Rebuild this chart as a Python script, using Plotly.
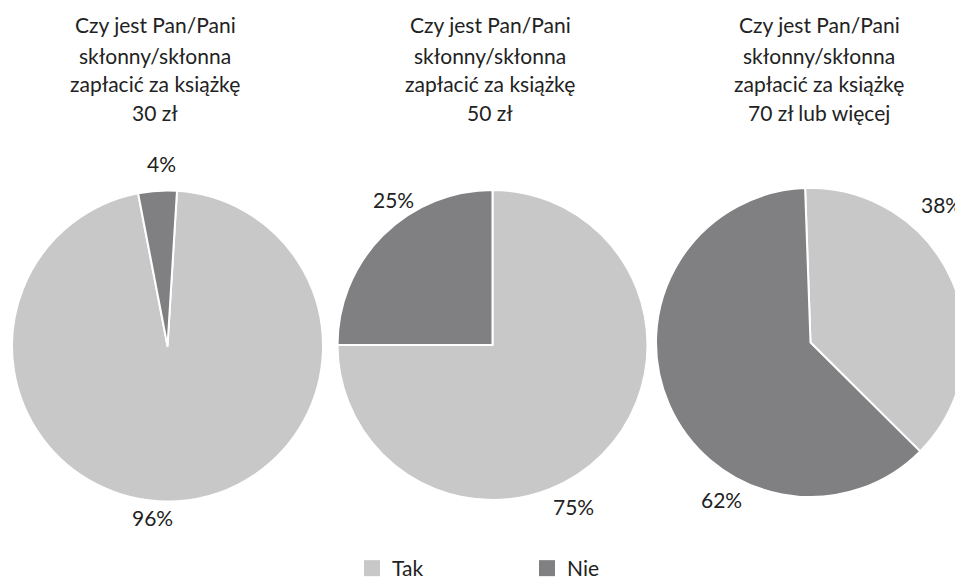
import plotly.graph_objects as go

categories = ["Tak", "Nie"]
title_lines = [
    ["Czy jest Pan/Pani", "skłonny/skłonna", "zapłacić za książkę", "30 zł"],
    ["Czy jest Pan/Pani", "skłonny/skłonna", "zapłacić za książkę", "50 zł"],
    ["Czy jest Pan/Pani", "skłonny/skłonna", "zapłacić za książkę", "70 zł lub więcej"],
]
values_30 = [96, 4]
values_50 = [75, 25]
values_70 = [38, 62]
all_values = [values_30, values_50, values_70]
colors = ["#c8c8c9", "#808083"]

# layout / style settings (pixels in the 963x580 window; page body has an 8px margin)
OFF = 8
W, H = 963, 580 - OFF
rotations = [3.5, 0, -2]
pie_centers = [(167.5, 346), (492.5, 345), (810.5, 342.5)]
pie_radius = [155.5, 155, 154.5]
title_x = [155, 490, 819]
title_line_y = [25, 55, 83, 112]
label_pos = [[(152, 517), (161, 163)],
             [(573, 506), (393, 199)],
             [(941, 205), (721, 499)]]
FONT = "Lato"
TXT = "#222222"


def px(x):
    return (x - OFF) / W


def py(y):
    return 1 - (y - OFF) / H


fig = go.Figure()
for i, vals in enumerate(all_values):
    cx, cy = pie_centers[i]
    r = pie_radius[i]
    fig.add_trace(go.Pie(
        labels=categories,
        values=vals,
        sort=False,
        direction="clockwise",
        rotation=rotations[i],
        marker=dict(colors=colors, line=dict(color="white", width=2)),
        textinfo="none",
        showlegend=False,
        domain=dict(x=[max(0, px(cx - r)), min(1, px(cx + r))],
                    y=[max(0, py(cy + r)), min(1, py(cy - r))]),
        hoverinfo="label+percent",
    ))
    for j, line in enumerate(title_lines[i]):
        fig.add_annotation(
            x=px(title_x[i]), y=py(title_line_y[j]), xref="paper", yref="paper",
            text=line, showarrow=False, xanchor="center", yanchor="middle",
            font=dict(size=21, color=TXT, family=FONT),
        )
    for k, v in enumerate(vals):
        lx, ly = label_pos[i][k]
        fig.add_annotation(
            x=px(lx), y=py(ly), xref="paper", yref="paper",
            text=f"{v}%", showarrow=False, xanchor="center", yanchor="middle",
            font=dict(size=21, color=TXT, family=FONT),
        )

# legend entries
for name, col in zip(categories, colors):
    fig.add_trace(go.Scatter(
        x=[None], y=[None], mode="markers", name=name,
        marker=dict(symbol="square", size=16, color=col),
        showlegend=True, hoverinfo="skip",
    ))

fig.update_layout(
    width=W, height=H,
    margin=dict(l=0, r=0, t=0, b=0, autoexpand=False),
    paper_bgcolor="white",
    plot_bgcolor="white",
    xaxis=dict(visible=False),
    yaxis=dict(visible=False),
    font=dict(family=FONT, size=21, color=TXT),
    legend=dict(
        orientation="h", x=344 / W, xanchor="left", y=-9 / H, yanchor="bottom",
        entrywidth=130, font=dict(size=21, family=FONT, color=TXT),
        traceorder="normal",
    ),
)
fig.write_html(
    "out.html",
    post_script="document.documentElement.style.overflow='hidden';"
                "document.body.style.overflow='hidden';",
)
